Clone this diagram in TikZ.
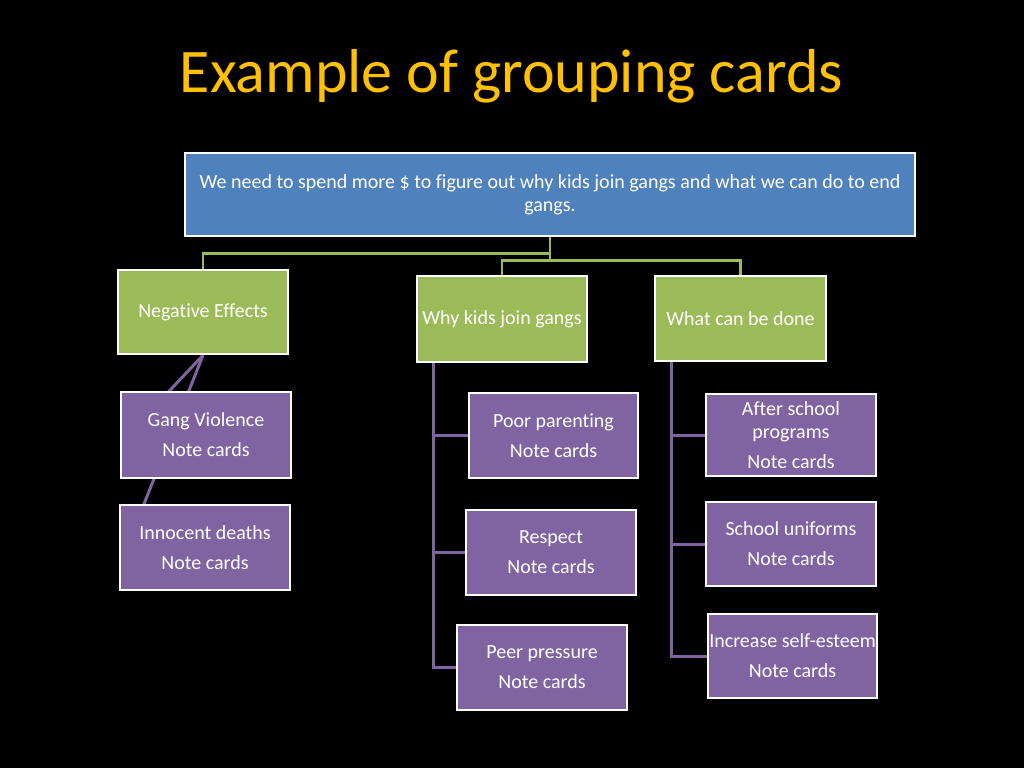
\documentclass[tikz,border=0pt]{standalone}
\usepackage{fontspec}
\setmainfont{Carlito}[Ligatures={NoCommon}]
\usetikzlibrary{backgrounds}
\definecolor{titlec}{HTML}{FFC000}
\definecolor{bluec}{HTML}{4F81BD}
\definecolor{greenc}{HTML}{9BBB59}
\definecolor{purplec}{HTML}{8064A2}
\tikzset{
  card/.style={draw=white, line width=2.5pt, inner sep=0pt, align=center, text=white,
    font={\fontsize{20}{23}\selectfont}},
  topcard/.style={card, fill=bluec, minimum width=730pt, minimum height=83pt},
  midcard/.style={card, fill=greenc, minimum width=170pt, minimum height=85pt},
  notecard/.style={card, fill=purplec, minimum width=170pt, minimum height=85pt},
  gline/.style={draw=greenc, line width=2.5pt},
  pline/.style={draw=purplec, line width=3pt},
}
\begin{document}
\begin{tikzpicture}[x=1pt, y=-1pt]
\useasboundingbox (0,0) rectangle (1024,768);

\node[text=titlec, font={\fontsize{62}{70}\selectfont}, anchor=base] (title) at (511.5,92) {Example of grouping cards};

\node[topcard] (top) at (550,194.5) {We need to spend more \$ to figure out why kids join gangs and what we can do to end\\gangs.};

\node[midcard, minimum height=84pt] (neg) at (203,312) {Negative Effects};
\node[midcard, minimum height=86pt] (why) at (502,319) {Why kids join gangs};
\node[midcard, minimum width=171pt] (what) at (740.5,318.5) {What can be done};

\node[notecard, minimum height=86pt] (gv) at (206,435) {Gang Violence\\[7pt]Note cards};
\node[notecard] (id) at (205,547.5) {Innocent deaths\\[7pt]Note cards};

\node[notecard, minimum width=169pt] (pp) at (553.5,435.5) {Poor parenting\\[7pt]Note cards};
\node[notecard] (resp) at (551,552.5) {Respect\\[7pt]Note cards};
\node[notecard] (peer) at (542,667.5) {Peer pressure\\[7pt]Note cards};

\node[notecard, minimum height=82pt] (after) at (791,435) {After school\\programs\\[7pt]Note cards};
\node[notecard, minimum height=84pt] (unif) at (791,544) {School uniforms\\[7pt]Note cards};
\node[notecard, minimum width=169pt, minimum height=84pt] (esteem) at (792.5,656) {Increase self-esteem\\[7pt]Note cards};

\begin{scope}[on background layer]
\fill[black] (0,0) rectangle (1024,768);

\draw[gline] (top.south) -- ++(0,16) -| (neg.north);
\draw[gline] (top.south) -- ++(0,23) -| (why.north);
\draw[gline] (top.south) -- ++(0,23) -| (what.north);

\draw[pline, shorten >=-6pt] (neg.south) -- ([xshift=8pt]gv.west);
\draw[pline, shorten >=-6pt] (neg.south) -- ([xshift=8pt]id.west);

\draw[pline] ([xshift=18pt]why.south west) |- (pp.west);
\draw[pline] ([xshift=18pt]why.south west) |- (resp.west);
\draw[pline] ([xshift=18pt]why.south west) |- (peer.west);

\draw[pline] ([xshift=18pt]what.south west) |- (after.west);
\draw[pline] ([xshift=18pt]what.south west) |- (unif.west);
\draw[pline] ([xshift=18pt]what.south west) |- (esteem.west);
\end{scope}
\end{tikzpicture}
\end{document}
